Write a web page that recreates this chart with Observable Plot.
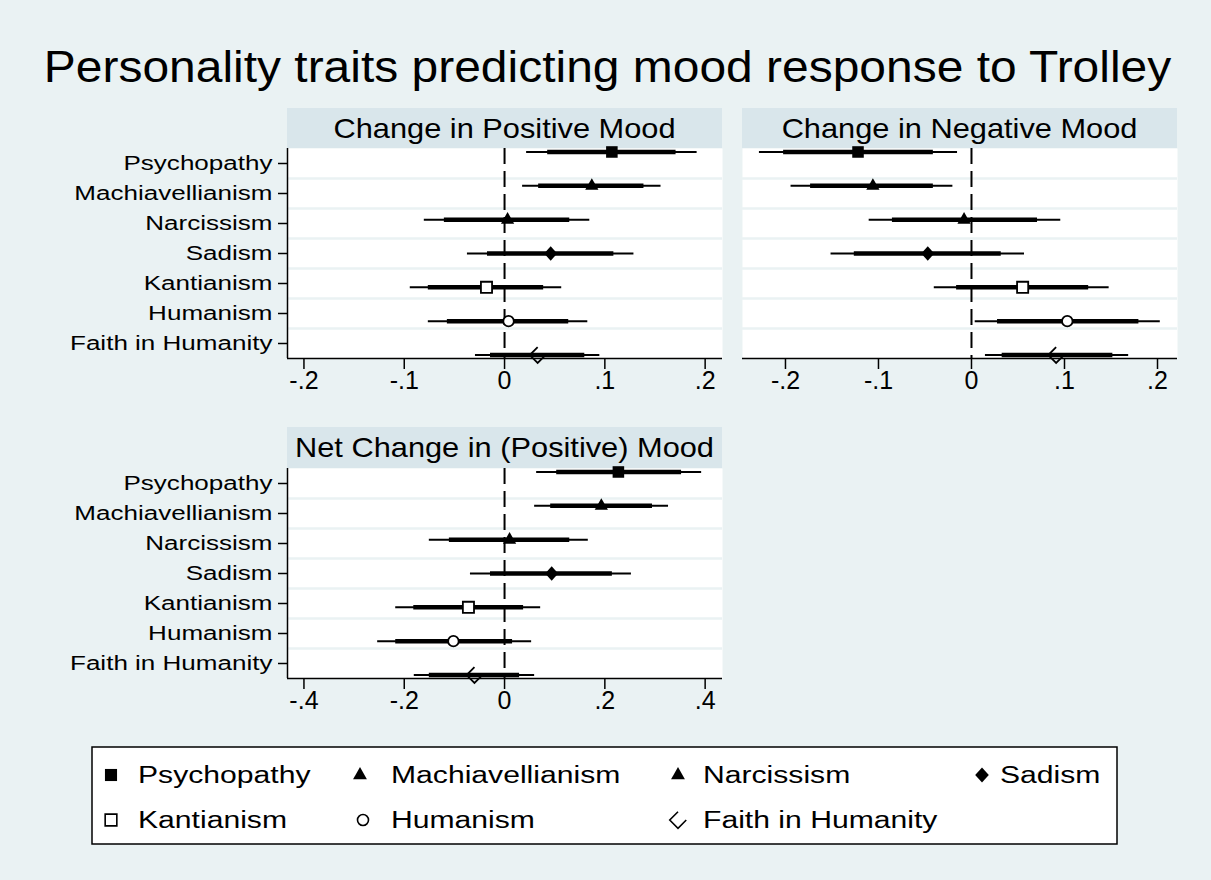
<!DOCTYPE html>
<html><head><meta charset="utf-8">
<script src="https://cdn.jsdelivr.net/npm/d3@7"></script>
<script src="https://cdn.jsdelivr.net/npm/@observablehq/plot@0.6"></script>
<style>
html,body{margin:0;padding:0;background:#EAF2F3;}
#root{position:relative;width:1211px;height:880px;background:#EAF2F3;font-family:"Liberation Sans",Arial,sans-serif;overflow:hidden;}
#root svg{position:absolute;overflow:visible;}
</style></head><body><div id="root"></div>
<script>
// ---------------- data ----------------
const chartTitle = "Personality traits predicting mood response to Trolley";
const panelTitles = ["Change in Positive Mood", "Change in Negative Mood", "Net Change in (Positive) Mood"];
const traits = ["Psychopathy","Machiavellianism","Narcissism","Sadism","Kantianism","Humanism","Faith in Humanity"];

const posEst  = [0.107, 0.087, 0.003, 0.046, -0.018, 0.004, 0.033];
const posLo95 = [0.022, 0.018, -0.080, -0.037, -0.094, -0.076, -0.029];
const posHi95 = [0.192, 0.156, 0.085, 0.129, 0.057, 0.083, 0.095];
const posLo90 = [0.043, 0.034, -0.060, -0.017, -0.076, -0.057, -0.014];
const posHi90 = [0.171, 0.139, 0.065, 0.109, 0.039, 0.064, 0.080];

const negEst  = [-0.122, -0.106, -0.008, -0.047, 0.055, 0.103, 0.091];
const negLo95 = [-0.228, -0.194, -0.110, -0.151, -0.040, 0.004, 0.015];
const negHi95 = [-0.015, -0.020, 0.096, 0.057, 0.148, 0.203, 0.169];
const negLo90 = [-0.202, -0.173, -0.085, -0.126, -0.016, 0.028, 0.033];
const negHi90 = [-0.041, -0.041, 0.071, 0.032, 0.126, 0.180, 0.152];

const netEst  = [0.227, 0.193, 0.010, 0.094, -0.072, -0.102, -0.060];
const netLo95 = [0.064, 0.060, -0.150, -0.068, -0.217, -0.253, -0.180];
const netHi95 = [0.393, 0.327, 0.167, 0.253, 0.072, 0.054, 0.060];
const netLo90 = [0.104, 0.092, -0.110, -0.028, -0.181, -0.217, -0.150];
const netHi90 = [0.353, 0.295, 0.130, 0.215, 0.038, 0.016, 0.030];

const ticksSmall = [-0.2, -0.1, 0, 0.1, 0.2];
const ticksNet = [-0.4, -0.2, 0, 0.2, 0.4];

// ---------------- style ----------------
const BG = "#EAF2F3", STRIP = "#D9E6EB", GRID = "#EAF2F3";
const FONT = "'Liberation Sans', Arial, sans-serif";

function sym(drawFn){ return { draw(ctx, size){ drawFn(ctx, Math.sqrt(size/Math.PI)); } }; }
const shapes = [
  sym((c,k)=>{ const h=5.5*k; c.moveTo(-h,-h); c.lineTo(h,-h); c.lineTo(h,h); c.lineTo(-h,h); c.closePath(); }),
  sym((c,k)=>{ c.moveTo(0,-7.3*k); c.lineTo(6.3*k,3.8*k); c.lineTo(-6.3*k,3.8*k); c.closePath(); }),
  sym((c,k)=>{ c.moveTo(0,-7.3*k); c.lineTo(6.3*k,3.8*k); c.lineTo(-6.3*k,3.8*k); c.closePath(); }),
  sym((c,k)=>{ c.moveTo(0,-6.8*k); c.lineTo(6.2*k,0); c.lineTo(0,6.8*k); c.lineTo(-6.2*k,0); c.closePath(); }),
  sym((c,k)=>{ const h=5.3*k; c.moveTo(-h,-h); c.lineTo(h,-h); c.lineTo(h,h); c.lineTo(-h,h); c.closePath(); }),
  sym((c,k)=>{ const r=5*k; c.moveTo(r,0); c.arc(0,0,r,0,2*Math.PI); }),
  sym((c,k)=>{ const h=7.5*k; c.moveTo(0,-h); c.lineTo(-h,0); c.lineTo(0,h); c.lineTo(h,0); })
];
const filled = [true, true, true, true, false, false, false];

const rowPos = i => 3.5 + (i - 3) * 1.128;

const root = document.getElementById("root");
const bg = d3.select(root).append("svg").attr("width",1211).attr("height",880).style("left","0px").style("top","0px");

function stretch(el, f){
  const t = el.getAttribute("transform") || "";
  el.setAttribute("transform", t + ` scale(${f},1)`);
}

bg.append("text").attr("transform","translate(607.5,82) scale(1.09,1)")
  .attr("text-anchor","middle").attr("font-family",FONT).attr("font-size",44).attr("fill","#000").text(chartTitle);

const strips = [{x:287,y:108,h:40},{x:742,y:108,h:40},{x:287,y:427,h:41}];
strips.forEach((s,i)=>{
  bg.append("rect").attr("x",s.x).attr("y",s.y).attr("width",435).attr("height",s.h).attr("fill",STRIP);
  bg.append("text").attr("transform",`translate(${s.x+217.5},${s.y+s.h/2+9.6}) scale(1.14,1)`)
    .attr("text-anchor","middle").attr("font-family",FONT).attr("font-size",27).attr("fill","#000").text(panelTitles[i]);
});

function fmt(d){ return d === 0 ? "0" : String(d).replace(/^(-?)0\./, "$1."); }

function panel({est, lo95, hi95, lo90, hi90, domain, ticks, showY, left, top, ml, width}){
  const rows = traits.map((t,i)=>({trait:t, i, pos: rowPos(i), est: est[i], lo95: lo95[i], hi95: hi95[i], lo90: lo90[i], hi90: hi90[i]}));
  const svg = Plot.plot({
    width, height: 270, marginTop: 10, marginBottom: 50, marginLeft: ml, marginRight: width - ml - 435,
    x: {domain, axis: null}, y: {domain: [7, 0], axis: null},
    style: {fontFamily: FONT, color: "#000", background: "transparent", overflow: "visible"},
    marks: [
      Plot.frame({fill: "white", stroke: "none"}),
      Plot.ruleY(d3.range(1, 7), {stroke: GRID, strokeWidth: 2.5}),
      Plot.ruleX([0], {stroke: "#000", strokeWidth: 2, strokeDasharray: "16,7"}),
      showY ? Plot.ruleX([domain[0]], {stroke: "#000", strokeWidth: 1.5}) : null,
      Plot.ruleY([7], {stroke: "#000", strokeWidth: 1.5}),
      Plot.ruleY(rows, {y: "pos", x1: "lo95", x2: "hi95", stroke: "#000", strokeWidth: 2}),
      Plot.ruleY(rows, {y: "pos", x1: "lo90", x2: "hi90", stroke: "#000", strokeWidth: 4.5}),
      ...rows.map(r => Plot.dot([r], {x: "est", y: "pos", symbol: shapes[r.i], r: 1.05,
        fill: filled[r.i] ? "#000" : (r.i === 6 ? "none" : "white"), stroke: "#000",
        strokeWidth: filled[r.i] ? 0 : 1.8, strokeLinejoin: "miter"})),
      Plot.axisX(ticks, {tickFormat: fmt, tickSize: 11, tickPadding: 2, fontSize: 25, strokeWidth: 1.5, label: null}),
      showY ? Plot.axisY(traits.map((t,i)=>i+0.5), {tickFormat: v => traits[Math.floor(v)], tickSize: 9, tickPadding: 6, fontSize: 21, strokeWidth: 1.5, label: null}) : null
    ]
  });
  svg.style.left = left + "px";
  svg.style.top = top + "px";
  root.appendChild(svg);
  svg.querySelectorAll('[aria-label="y-axis tick label"] text').forEach(el => stretch(el, 1.24));
  return svg;
}

panel({est: posEst, lo95: posLo95, hi95: posHi95, lo90: posLo90, hi90: posHi90, domain: [-0.2164, 0.2173], ticks: ticksSmall, showY: true, left: 0, top: 138, ml: 287, width: 732});
panel({est: negEst, lo95: negLo95, hi95: negHi95, lo90: negLo90, hi90: negHi90, domain: [-0.2462, 0.2215], ticks: ticksSmall, showY: false, left: 732, top: 138, ml: 10, width: 479});
panel({est: netEst, lo95: netLo95, hi95: netHi95, lo90: netLo90, hi90: netHi90, domain: [-0.4328, 0.4346], ticks: ticksNet, showY: true, left: 0, top: 458, ml: 287, width: 732});

// legend
const legendMarkX = [111, 360, 678, 982, 111, 363, 678];
const legendTextX = [138, 391, 703, 1000, 138, 391, 703];
const legendRowY  = [775, 775, 775, 775, 820, 820, 820];
bg.append("rect").attr("x",92).attr("y",747).attr("width",1025).attr("height",97).attr("fill","white").attr("stroke","#000").attr("stroke-width",1.5);
traits.forEach((t,i)=>{
  bg.append("path").attr("transform",`translate(${legendMarkX[i]},${legendRowY[i]})`)
    .attr("d", d3.symbol(shapes[i], Math.PI*1.1*1.1)())
    .attr("fill", filled[i] ? "#000" : (i === 6 ? "none" : "white")).attr("stroke","#000")
    .attr("stroke-width", filled[i] ? 0 : 1.6).attr("stroke-linejoin","miter");
  bg.append("text").attr("transform",`translate(${legendTextX[i]},${legendRowY[i]+8.3}) scale(1.31,1)`)
    .attr("font-family",FONT).attr("font-size",23).attr("fill","#000").text(t);
});
</script></body></html>
